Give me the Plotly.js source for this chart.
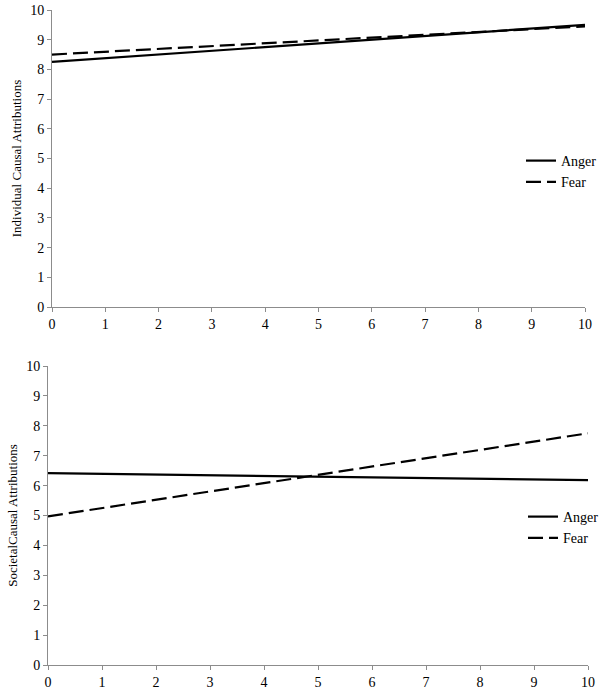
<!DOCTYPE html>
<html>
<head>
<meta charset="utf-8">
<script src="https://cdn.plot.ly/plotly-3.0.1.min.js"></script>
<style>html,body{margin:0;padding:0;background:#fff;}#chart{width:604px;height:693px;}</style>
</head>
<body>
<div id="chart"></div>
<script>
// Moderator values (x axis)
const xVals = [0, 10];
// Top panel: Individual causal attributions
const indivAnger = [8.25, 9.5];
const indivFear = [8.5, 9.45];
// Bottom panel: Societal causal attributions
const socAnger = [6.42, 6.18];
const socFear = [4.97, 7.75];
const tickVals = [0,1,2,3,4,5,6,7,8,9,10];
const seriesNames = ["Anger", "Fear"];

const F = "Liberation Serif";
const lineW = 2.2;
const dashPat = "15px,6px";

const traces = [
  {x: xVals, y: indivAnger, name: seriesNames[0], mode: "lines", line: {color: "#000", width: lineW}, xaxis: "x", yaxis: "y", legend: "legend"},
  {x: xVals, y: indivFear, name: seriesNames[1], mode: "lines", line: {color: "#000", width: lineW, dash: dashPat}, xaxis: "x", yaxis: "y", legend: "legend"},
  {x: xVals, y: socAnger, name: seriesNames[0], mode: "lines", line: {color: "#000", width: lineW}, xaxis: "x2", yaxis: "y2", legend: "legend2"},
  {x: xVals, y: socFear, name: seriesNames[1], mode: "lines", line: {color: "#000", width: lineW, dash: dashPat}, xaxis: "x2", yaxis: "y2", legend: "legend2"}
];

const axCommon = {
  range: [0, 10], tickvals: tickVals, showgrid: false, zeroline: false,
  showline: true, linecolor: "#8c8c8c", linewidth: 1,
  ticks: "outside", ticklen: 4, tickcolor: "#8c8c8c", tickwidth: 1,
  tickfont: {family: F, size: 14, color: "#000"}, fixedrange: true, automargin: false
};

const L = 40, R = 10, T = 10, B = 20, W = 604, H = 693;
const pw = W - L - R, ph = H - T - B;
function dx(a, b) { return [(a - L) / pw, (b - L) / pw]; }
function dy(top, bot) { return [(H - B - bot) / ph, (H - B - top) / ph]; }

const legendCommon = {
  font: {family: F, size: 14, color: "#000"}, bgcolor: "rgba(0,0,0,0)",
  borderwidth: 0, xanchor: "left", yanchor: "top", tracegroupgap: 0, itemwidth: 30
};

const layout = {
  width: W, height: H,
  margin: {l: L, r: R, t: T, b: B, autoexpand: false},
  paper_bgcolor: "#fff", plot_bgcolor: "#fff",
  font: {family: F, color: "#000"},
  showlegend: true,
  xaxis: Object.assign({}, axCommon, {domain: dx(52, 585), anchor: "y"}),
  yaxis: Object.assign({}, axCommon, {domain: dy(10, 307), anchor: "x",
    title: {text: "Individual Causal Attributions", font: {family: F, size: 13, color: "#000"}, standoff: 5}}),
  xaxis2: Object.assign({}, axCommon, {domain: dx(48, 588), anchor: "y2"}),
  yaxis2: Object.assign({}, axCommon, {domain: dy(366, 665), anchor: "x2",
    title: {text: "SocietalCausal Attributions", font: {family: F, size: 13, color: "#000"}, standoff: 5}}),
  legend: Object.assign({}, legendCommon, {x: (521 - L) / pw, y: (H - B - 145) / ph}),
  legend2: Object.assign({}, legendCommon, {x: (523 - L) / pw, y: (H - B - 501) / ph})
};

Plotly.newPlot("chart", traces, layout, {displayModeBar: false, staticPlot: true});
</script>
</body>
</html>
